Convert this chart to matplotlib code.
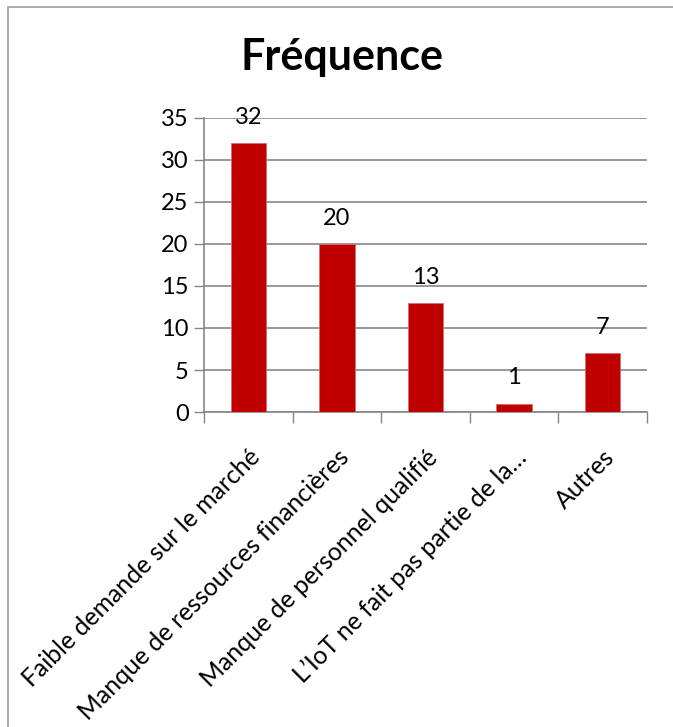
import matplotlib
matplotlib.use('Agg')
import matplotlib.pyplot as plt
from matplotlib.patches import Rectangle
import numpy as np

# Data
categories = [
    "Faible demande sur le marché",
    "Manque de ressources financières",
    "Manque de personnel qualifié",
    "L\u2019IoT ne fait pas partie de la\u2026",
    "Autres",
]
values = [32, 20, 13, 1, 7]
y_ticks = [0, 5, 10, 15, 20, 25, 30, 35]

plt.rcParams['font.family'] = ['Lato', 'DejaVu Sans']

fig = plt.figure(figsize=(6.73, 7.27), dpi=100)
fig.patch.set_facecolor('white')

# chart frame (only top/left edges are visible in the crop)
fig.add_artist(Rectangle((7.5 / 673, -0.1), 1.2, 1.1 - 6.5 / 727,
                         transform=fig.transFigure, fill=False,
                         edgecolor='#a6a6a6', linewidth=1.3))

ax = fig.add_axes([204 / 673, 1 - 412 / 727, (647 - 204) / 673, (412 - 118) / 727])

x = np.arange(len(categories))
ax.bar(x, values, width=0.4, color='#C00000', edgecolor='#d07070', linewidth=0.6, zorder=3)

for xi, v in zip(x, values):
    ax.text(xi, v + 1.8, str(v), ha='center', va='bottom', fontsize=17, color='black')

ax.set_xlim(-0.5, len(categories) - 0.5)
ax.set_ylim(0, 35)
ax.set_yticks(y_ticks)
ax.tick_params(axis='y', length=7, width=1, color='#868686', labelsize=17, pad=4)
ax.yaxis.grid(True, color='#868686', linewidth=1.2, zorder=0)
ax.set_axisbelow(True)

# category boundary ticks on x axis
ax.set_xticks(np.arange(len(categories) + 1) - 0.5)
ax.set_xticklabels([])
ax.tick_params(axis='x', length=8, width=1, color='#868686')
ax.set_xticks(x, minor=True)
ax.set_xticklabels(categories, minor=True, rotation=45, ha='right',
                   rotation_mode='anchor', fontsize=17.8)
ax.tick_params(axis='x', which='minor', length=0, pad=24)

for side in ['top', 'right']:
    ax.spines[side].set_visible(False)
for side in ['left', 'bottom']:
    ax.spines[side].set_color('#868686')
    ax.spines[side].set_linewidth(1.2)

fig.text(342 / 673, 1 - 57 / 727, 'Fréquence', ha='center', va='center',
         fontsize=31, fontweight='bold')

fig.savefig('out.png', dpi=100)
